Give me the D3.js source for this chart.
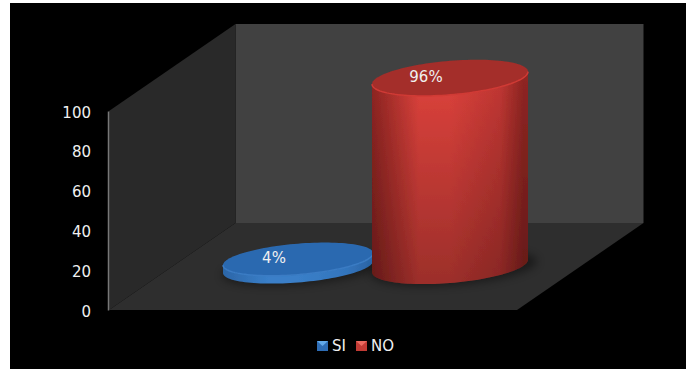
<!DOCTYPE html>
<html><head><meta charset="utf-8">
<script src="https://cdn.jsdelivr.net/npm/d3@7"></script>
<style>html,body{margin:0;padding:0;background:#fff}svg{display:block}text{font-family:"DejaVu Sans",sans-serif;fill:#f0f0f0}</style>
</head><body><svg id="c" width="686" height="369"></svg>
<script>
const categories = ["SI", "NO"];
const values = [4, 96];
const labels = ["4%", "96%"];
const ticks = [0, 20, 40, 60, 80, 100];
const colors = {SI: {top:"#2c69b0", rim:"#3a7cc4", edge:"#2c66a8", light:"#3a7fc8", mid:"#3375bd", key:"#2f6db5", keyHi:"#62a9ea"},
                NO: {top:"#a42d29", rim:"#d03a35", edge:"#8f2522", light:"#de423c", mid:"#c23733", key:"#c23a36", keyHi:"#e96b61"}};
const fadeAmount = {SI: 0, NO: 0.3};

const svg = d3.select("#c");
const defs = svg.append("defs");
svg.append("rect").attr("x",10).attr("y",3).attr("width",676).attr("height",366).attr("fill","#000");

const y = d3.scaleLinear().domain([0,100]).range([310,111]);
const hScale = d3.scaleLinear().domain([0,100]).range([0,196]);
const depth = {dx:126.5, dy:-87};
const floorX = d3.scaleLinear().domain([0,1]).range([109,517]);
const line = d3.line();
const corners = {
  fl:[floorX(0),y(0)], fr:[floorX(1),y(0)],
  bl:[floorX(0)+depth.dx,y(0)+depth.dy], br:[floorX(1)+depth.dx,y(0)+depth.dy],
  tl:[floorX(0),y(100)], tbl:[floorX(0)+depth.dx,y(100)+depth.dy], tbr:[floorX(1)+depth.dx,y(100)+depth.dy]
};
svg.append("path").attr("d",line([corners.tbl,corners.tbr,corners.br,corners.bl])+"Z").attr("fill","#414141");
svg.append("path").attr("d",line([corners.tl,corners.tbl,corners.bl,corners.fl])+"Z").attr("fill","#292929");
svg.append("path").attr("d",line([corners.fl,corners.fr,corners.br,corners.bl])+"Z").attr("fill","#2e2e2e");

// axis
const axis = d3.axisLeft(y).tickValues(ticks).tickSize(0).tickPadding(17);
const gA = svg.append("g").attr("transform","translate(108,0)").call(axis);
gA.select(".domain").attr("stroke","#777").attr("stroke-width",1.5);
gA.selectAll("text").style("font-size","15px").style("font-family",'"DejaVu Sans",sans-serif').attr("fill","#f0f0f0").attr("dy","0.4em");

// cylinders
const x = d3.scalePoint().domain(categories).range([298,450]);
const rx = d3.scalePoint().domain(categories).range([75,78]);
const ryS = d3.scalePoint().domain(categories).range([15.5,17]);
const baseY = d3.scalePoint().domain(categories).range([267,266]);
const shear = 0.08;
const ts = d3.range(0, 2*Math.PI+0.01, Math.PI/60);
function ell(cx,r,ry,cy,t){return [cx+r*Math.cos(t), cy+ry*Math.sin(t)-shear*r*Math.cos(t)];}

const blur = defs.append("filter").attr("id","sh").attr("x","-30%").attr("y","-50%").attr("width","160%").attr("height","200%");
blur.append("feGaussianBlur").attr("stdDeviation",4);
const soft = defs.append("filter").attr("id","soft");
soft.append("feGaussianBlur").attr("stdDeviation",0.5);

categories.forEach((c,i)=>{
  const col = colors[c];
  const shade = defs.append("linearGradient").attr("id","fade"+c).attr("x1",0).attr("y1",0).attr("x2",0).attr("y2",1);
  shade.append("stop").attr("offset",0).attr("stop-color","#000").attr("stop-opacity",0);
  shade.append("stop").attr("offset",1).attr("stop-color","#000").attr("stop-opacity",fadeAmount[c]);
  const g = defs.append("linearGradient").attr("id","side"+c);
  [[0,col.edge],[0.3,col.light],[0.5,col.light],[0.82,col.mid],[0.97,col.edge],[1,col.edge]].forEach(s=>
    g.append("stop").attr("offset",s[0]).attr("stop-color",s[1]));
  const yb = baseY(c), ry = ryS(c);
  const yt = yb-hScale(values[i]);
  const cx = x(c), r = rx(c);
  const group = svg.append("g");
  group.append("path").attr("d",line(ts.map(t=>ell(cx+4,r+5,ry,yb+2,t)))+"Z").attr("fill","#000").attr("opacity",0.4).attr("filter","url(#sh)");
  const front = d3.range(0, Math.PI+0.01, Math.PI/60);
  const side = front.map(t=>ell(cx,r,ry,yb,t)).concat(front.slice().reverse().map(t=>ell(cx,r,ry,yt,t)));
  const gm = group.append("g").attr("filter","url(#soft)");
  gm.append("path").attr("d",line(side)+"Z").attr("fill",`url(#side${c})`);
  gm.append("path").attr("d",line(side)+"Z").attr("fill",`url(#fade${c})`);
  gm.append("path").attr("d",line(ts.map(t=>ell(cx,r,ry,yt,t)))+"Z").attr("fill",col.top);
  gm.append("path").attr("d",line(front.map(t=>ell(cx,r,ry,yt,t)))).attr("fill","none").attr("stroke",col.rim).attr("stroke-width",1.5);
});
// labels drawn after both marks
categories.forEach((c,i)=>{
  const yt = baseY(c)-hScale(values[i]);
  svg.append("text").attr("x",x(c)-24).attr("y",yt+4).attr("text-anchor","middle")
    .style("font-size","15px").text(labels[i]);
});

// legend
const legendX = d3.scalePoint().domain(categories).range([317,356]);
categories.forEach(c=>{
  const col = colors[c], lx = legendX(c), ly = 341, kw = 11, kh = 10;
  const key = svg.append("g").attr("filter","url(#soft)");
  key.append("rect").attr("x",lx).attr("y",ly).attr("width",kw).attr("height",kh).attr("fill",col.key);
  key.append("path").attr("d",line([[lx,ly],[lx+kw,ly],[lx+kw/2,ly+kh/2]])+"Z").attr("fill",col.keyHi);
  svg.append("text").attr("x",lx+15).attr("y",351).style("font-size","15px").text(c);
});
</script></body></html>
